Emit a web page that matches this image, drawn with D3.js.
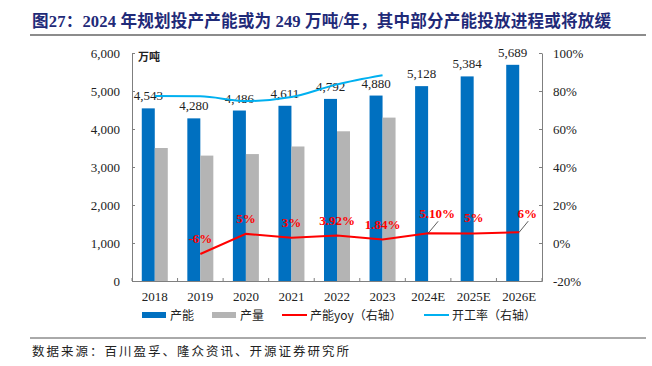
<!DOCTYPE html>
<html lang="zh">
<head>
<meta charset="UTF-8">
<title>图27</title>
<script src="https://d3js.org/d3.v7.min.js"></script>
<style>
  body { margin: 0; background: #fff; }
  svg { display: block; }
  text { font-family: "Liberation Serif", "Noto Sans CJK SC", serif; }
  .cjk { font-family: "Noto Sans CJK SC", sans-serif; }
</style>
</head>
<body>
<svg width="652" height="366"></svg>
<script>
  // data
  const years = ["2018", "2019", "2020", "2021", "2022", "2023", "2024E", "2025E", "2026E"];
  const capacity = [4543, 4280, 4486, 4611, 4792, 4880, 5128, 5384, 5689];
  const output = [3500, 3300, 3340, 3540, 3940, 4300, null, null, null];
  const capYoy = [null, -5.8, 4.8, 2.8, 3.92, 1.84, 5.1, 5.0, 5.7];
  const yoyLabels = [null, "-6%", "5%", "3%", "3.92%", "1.84%", "5.10%", "5%", "6%"];
  const utilRate = [77.4, 77.2, 74.7, 76.8, 83.5, 88.3, null, null, null];
  const leftTicks = [0, 1000, 2000, 3000, 4000, 5000, 6000];
  const rightTicks = [-20, 0, 20, 40, 60, 80, 100];

  const svg = d3.select("svg");
  const plotL = 132, plotR = 542, plotT = 53, plotB = 281;

  const x = d3.scaleBand().domain(years).range([plotL, plotR]);
  const y = d3.scaleLinear().domain([0, 6000]).range([plotB, plotT]);
  const y2 = d3.scaleLinear().domain([-20, 100]).range([plotB, plotT]);
  const bw = 13;
  const axisColor = "#7f7f7f";

  // title
  svg.append("text").attr("x", 32).attr("y", 27)
    .attr("font-size", "16.6px").attr("font-weight", "bold").attr("fill", "#1f2a78")
    .attr("letter-spacing", "0.15px")
    .text("图27：2024 年规划投产产能或为 249 万吨/年，其中部分产能投放进程或将放缓");
  svg.append("line").attr("x1", 30).attr("x2", 646).attr("y1", 35).attr("y2", 35)
    .attr("stroke", "#8c8c8c").attr("stroke-width", 2);

  // bars
  svg.append("g").selectAll("rect").data(years).enter().append("rect")
    .attr("x", d => x(d) + x.bandwidth() / 2 - bw)
    .attr("y", (d, i) => y(capacity[i]))
    .attr("width", bw)
    .attr("height", (d, i) => plotB - y(capacity[i]))
    .attr("fill", "#0070c0");

  svg.append("g").selectAll("rect").data(years.filter((d, i) => output[i] != null)).enter().append("rect")
    .attr("x", d => x(d) + x.bandwidth() / 2)
    .attr("y", (d, i) => y(output[i]))
    .attr("width", bw)
    .attr("height", (d, i) => plotB - y(output[i]))
    .attr("fill", "#b4b4b4");

  // axes
  const leftAxis = svg.append("g").attr("transform", `translate(${plotL},0)`)
    .call(d3.axisLeft(y).tickValues(leftTicks).tickFormat(d3.format(",")).tickSizeInner(-3).tickSizeOuter(0).tickPadding(12));
  const rightAxis = svg.append("g").attr("transform", `translate(${plotR},0)`)
    .call(d3.axisRight(y2).tickValues(rightTicks).tickFormat(d => d + "%").tickSizeInner(-3).tickSizeOuter(0).tickPadding(11));
  const xAxis = svg.append("g").attr("transform", `translate(0,${plotB})`)
    .call(d3.axisBottom(x).tickSize(0).tickPadding(11));
  xAxis.selectAll(".tick").append("line")
    .attr("x1", x.bandwidth() / 2).attr("x2", x.bandwidth() / 2)
    .attr("y1", 0).attr("y2", -3).attr("stroke", axisColor);

  [leftAxis, rightAxis, xAxis].forEach(g => {
    g.select(".domain").attr("stroke", axisColor);
    g.selectAll(".tick line").attr("stroke", axisColor);
    g.selectAll(".tick text").attr("font-size", "13px").attr("fill", "#222")
      .attr("font-family", "Liberation Serif");
  });
  xAxis.append("line").attr("x1", plotL).attr("x2", plotL).attr("y1", 0).attr("y2", -3).attr("stroke", axisColor);

  svg.append("text").attr("class", "cjk").attr("x", 138).attr("y", 61)
    .attr("font-size", "11px").attr("font-weight", "bold").attr("fill", "#222").text("万吨");

  // capacity labels
  svg.append("g").selectAll("text").data(years).enter().append("text")
    .attr("x", d => x(d) + x.bandwidth() / 2 - bw / 2)
    .attr("y", (d, i) => y(capacity[i]) - 8)
    .attr("text-anchor", "middle").attr("font-size", "13px").attr("fill", "#222")
    .text((d, i) => d3.format(",")(capacity[i]));

  // utilisation line
  const cx = d => x(d) + x.bandwidth() / 2;
  const utilPts = years.map((d, i) => [cx(d), utilRate[i]]).filter(p => p[1] != null);
  svg.append("path").datum(utilPts)
    .attr("d", d3.line().x(p => p[0]).y(p => y2(p[1])).curve(d3.curveMonotoneX))
    .attr("fill", "none").attr("stroke", "#00b0f0").attr("stroke-width", 2);

  // yoy line
  const yoyPts = years.map((d, i) => [cx(d), capYoy[i], yoyLabels[i]]).filter(p => p[1] != null);
  svg.append("path").datum(yoyPts)
    .attr("d", d3.line().x(p => p[0]).y(p => y2(p[1])))
    .attr("fill", "none").attr("stroke", "#ff0000").attr("stroke-width", 2);

  // yoy labels, two of them pushed off with a leader line
  const leader = { "5.10%": [10, -12], "6%": [9, -11] };
  const lg = svg.append("g");
  yoyPts.forEach(p => {
    const px = p[0], py = y2(p[1]);
    let lx = px, ly = py - 11;
    if (leader[p[2]]) {
      const o = leader[p[2]];
      lg.append("line").attr("x1", px).attr("y1", py).attr("x2", px + o[0]).attr("y2", py + o[1])
        .attr("stroke", "#333").attr("stroke-width", 0.8);
      lx = px + o[0] - 1; ly = py + o[1] - 3;
    }
    if (p[2] === "5%" && p[1] === 5.0) ly = py - 12;
    lg.append("text").attr("x", lx).attr("y", ly)
      .attr("text-anchor", "middle").attr("font-size", "13px").attr("font-weight", "bold")
      .attr("fill", "#ff0000").text(p[2]);
  });

  // legend
  const legend = [
    { name: "产能", type: "bar", color: "#0070c0", x: 142 },
    { name: "产量", type: "bar", color: "#b4b4b4", x: 212 },
    { name: "产能yoy（右轴）", type: "line", color: "#ff0000", x: 282 },
    { name: "开工率（右轴）", type: "line", color: "#00b0f0", x: 424 }
  ];
  const lgd = svg.append("g");
  legend.forEach(l => {
    if (l.type === "bar") {
      lgd.append("rect").attr("x", l.x).attr("y", 312).attr("width", 24).attr("height", 6).attr("fill", l.color);
    } else {
      lgd.append("line").attr("x1", l.x).attr("x2", l.x + 25).attr("y1", 315).attr("y2", 315)
        .attr("stroke", l.color).attr("stroke-width", 2);
    }
    lgd.append("text").attr("class", "cjk").attr("x", l.x + 28).attr("y", 319.5)
      .attr("font-size", "12px").attr("fill", "#222").text(l.name);
  });

  // source
  svg.append("line").attr("x1", 30).attr("x2", 646).attr("y1", 338).attr("y2", 338)
    .attr("stroke", "#555").attr("stroke-width", 1);
  svg.append("text").attr("class", "cjk").attr("x", 32).attr("y", 356)
    .attr("font-size", "12.5px").attr("letter-spacing", "2px").attr("fill", "#222")
    .text("数据来源：百川盈孚、隆众资讯、开源证券研究所");
</script>
</body>
</html>
